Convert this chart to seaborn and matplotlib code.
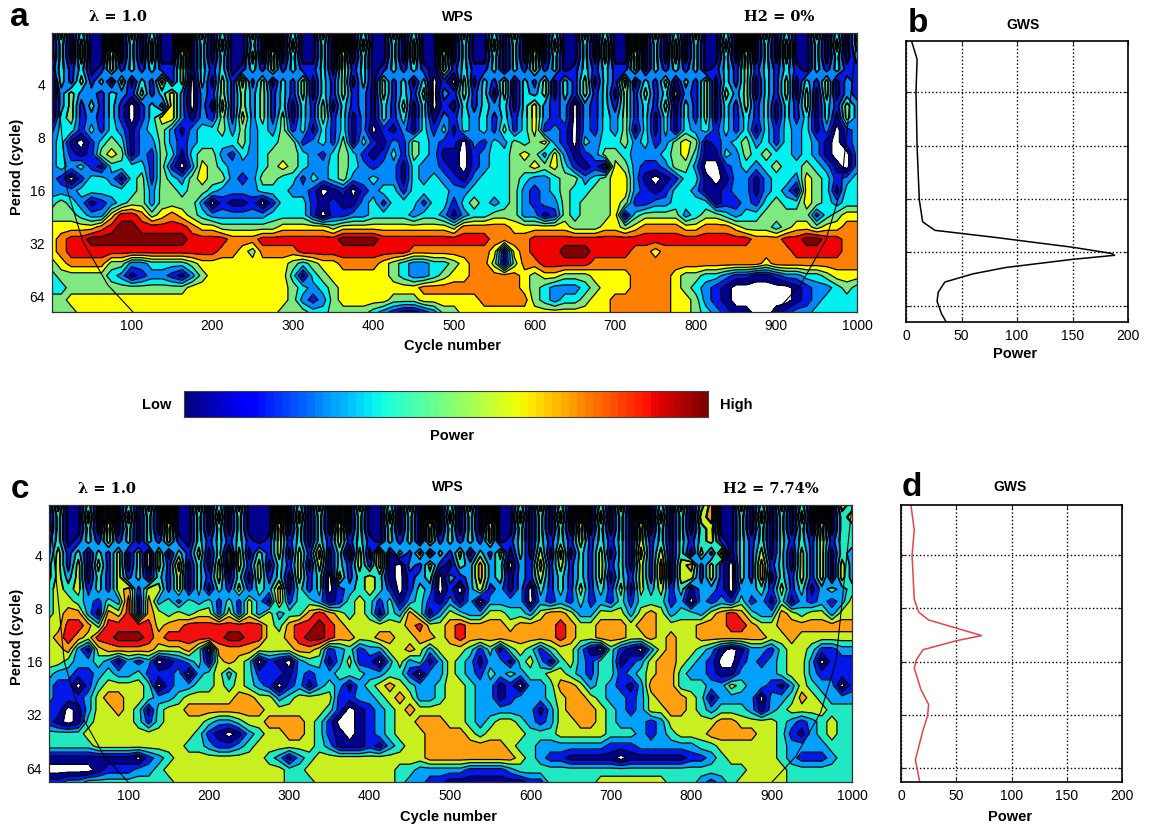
import numpy as np
import pandas as pd
import matplotlib
matplotlib.use('Agg')
import matplotlib.pyplot as plt
import seaborn as sns

# wavelet power, one string per row (top to bottom),
# one digit per column, 8 columns = 100 cycles. 0 is the white hole, 9 the top band
wps_a = [
    "15141161 51411615 14115161 41151614 11514116 15114151 61411514 11615141 51141615 14115141 4",
    "14151161 41511614 15114161 51141615 11415116 14115141 61511415 11614151 41151614 15114151 4",
    "14151151 41511514 14115151 41141514 11415115 14114141 51411415 11514151 41141514 15114141 3",
    "24241252 42422514 24124252 42241524 12424215 24224142 52412424 22514242 41242524 24214242 2",
    "04252415 14262504 15262514 25142514 15241402 05142514 25142514 26142514 25142514 25142513 2",
    "03533243 25246303 25253524 25142523 15242503 25241514 35142524 15252403 25153514 25151513 2",
    "03524242 02426303 16253524 14251423 14251402 14243414 63230324 25242514 25142524 14251425 3",
    "04523242 02466313 25263525 14252413 14241413 24342424 63230324 35241414 25142424 14241415 3",
    "24424243 13453134 45353435 24142413 02131424 14342524 62320324 35141414 34242414 24341302 3",
    "34102454 13353234 44453445 52342514 21325432 20324354 56320434 45342356 51234534 24343102 3",
    "34212565 13254145 53243455 54324542 12425431 10234456 53631235 54333456 41143545 44343100 3",
    "34342144 44252036 54333456 54334543 23314332 10234455 65642120 65322355 30023434 54454310 3",
    "32024431 45254356 55323554 42434533 43314343 21344454 33455345 66310124 41013313 44365423 4",
    "33344444 45355455 43333444 33201202 34424444 33444453 23454455 66321244 31123313 43165414 4",
    "45431234 55355553 02112024 44212113 42444244 24543453 23354555 65223344 44122324 54465434 4",
    "55543368 87567654 33333344 44202233 44443443 13445553 31254555 61455553 45543445 55552456 6",
    "66666789 98888876 65555556 66665666 66666666 57777766 66665556 65677776 67776555 45665667 7",
    "67889999 99999988 88777888 88888999 98888888 88887777 88888888 88888888 88888877 78899887 7",
    "67888888 88888888 87765777 78888888 88887777 77776167 88899988 88776777 77777777 77888887 7",
    "56777755 33444456 66666666 54566777 76543344 56775157 78888877 77777777 77777776 77777777 7",
    "45555543 12332135 66666666 41456666 66543345 66777776 56655566 66777765 54432211 23344566 6",
    "44555555 55555566 66666666 54345666 66666777 77777776 54333456 66777765 43210000 00123345 4",
    "55666666 66666666 66666666 53235666 66555666 66677777 54344566 77777766 53210000 00123444 4",
    "55566666 66666666 66666665 55445555 43211235 56666666 66666666 77777766 54321100 12334444 4",
]

wps_c = [
    "15114161 41516115 14151116 14151615 11415161 41516114 15141614 15161415 14611514 15141615 4",
    "14115161 51416114 15141116 15141614 11514161 51416115 14151615 14161514 15611415 14151614 5",
    "14114151 41415114 14141115 14141514 11414151 41415114 14141514 14151414 14511414 14141514 4",
    "24124252 41425214 24242125 24142524 21424152 42425124 14242524 24152414 24521424 14242524 4",
    "25241425 14051425 14051425 15261405 16142514 25142514 15161425 14162514 15261425 14152514 3",
    "35251525 14052614 15052514 25151425 26103252 14363403 26252425 24152615 62520426 24152515 3",
    "35351425 24142514 25141524 15240524 54102340 32363413 25242425 14252615 52520426 14252515 3",
    "45452425 62552514 14252436 14240234 54202430 20352313 04242524 25153524 13320334 25241343 4",
    "45543243 71634243 42425316 24431245 42413421 31303333 03232423 24244423 03232423 14132323 5",
    "45663165 71654545 52525353 44676545 41436413 54335544 35665335 55356534 43567643 36545535 5",
    "55776477 77756677 77777754 67787655 55556755 67666656 66676556 66566555 56667765 56666666 6",
    "56765778 88767777 77887755 67887665 56655665 67666666 66676556 66556565 56666666 55655555 5",
    "55631566 66655564 06666555 56652342 33556535 55424145 42455310 42103565 54310133 24554223 3",
    "55433431 32301234 15654021 03441352 20353413 54313314 53145324 41235665 43200232 34553022 2",
    "43322343 34222303 45354222 13233444 33442033 54324343 44554324 42345664 33211333 34553222 2",
    "32202455 55402334 45454320 23134313 45654334 55433120 33466534 32136664 44335433 21354330 2",
    "32223566 55433455 55566553 45555223 34565334 55433123 33456654 33235666 54133330 33465433 3",
    "22013556 54145566 66666655 55554201 23456555 55433333 31356665 43235566 54344431 34555544 4",
    "21014555 54245555 43345566 66542001 23455666 55434554 32355665 43332355 55566555 54323454 4",
    "44445555 55555554 21013455 66542101 23455566 66545555 44455555 44432345 55666665 54213454 4",
    "44444555 55555544 32234555 55543111 21345566 66666654 43333333 22233333 34455555 54333344 4",
    "11111111 10234555 55555543 13455555 55555566 66666665 43221111 10111111 22345555 54322234 4",
    "00000122 23345555 55555555 44555555 55544333 33222234 44444444 44444444 44444455 55444444 4",
    "22334444 44444555 55555555 44455555 55543322 11111111 22444445 55555544 43234555 55444444 4",
]

# band colours, white hole not included
colors_a = ['#00008c', '#0018e8', '#0088ff', '#00f0f0', '#80e880', '#ffff00', '#ff8000', '#f00000', '#800000']
colors_c = ['#00008c', '#0018e8', '#00a0ff', '#20e8c0', '#c8f020', '#ffa010', '#f01010', '#900000']

x_ticks = [100, 200, 300, 400, 500, 600, 700, 800, 900, 1000]
period_ticks = [4, 8, 16, 32, 64]

# cone of influence
coi_left_x = [1, 20, 39, 70, 103]
coi_left_p = [2.1, 16, 31, 55, 80]
coi_right_x = [1000, 980, 961, 930, 897]
coi_right_p = [2.1, 16, 31, 55, 80]

gws_b_period = [2.05, 2.6, 4, 8.1, 16.2, 21.5, 24, 26.3, 29.9, 32.4, 33.2, 35, 38.9, 42.3, 47, 53.7, 60.4, 71, 78.6]
gws_b_power = [5, 10, 9, 10, 12, 15, 26, 80, 150, 185, 188, 150, 90, 60, 35, 29, 28, 32, 36]

gws_d_period = [2.08, 2.88, 4, 7.1, 8.4, 9.3, 11.4, 12.2, 13.7, 15.6, 17.4, 23, 28, 32.5, 38.9, 57.6, 76.8]
gws_d_power = [9, 12, 10, 12, 16, 25, 73, 50, 20, 14, 12, 18, 25, 24, 20, 13, 17]

sns.set_style('white')
plt.rcParams['font.family'] = ['Liberation Sans', 'DejaVu Sans']
plt.rcParams['text.color'] = 'k'
plt.rcParams['xtick.labelcolor'] = 'k'
plt.rcParams['ytick.labelcolor'] = 'k'

W, H = 1150, 834
fig = plt.figure(figsize=(W / 100, H / 100), dpi=100)


def px_axes(left, top, right, bottom):
    return fig.add_axes([left / W, 1 - bottom / H, (right - left) / W, (bottom - top) / H])


def label(x, y, s, **kw):
    kw.setdefault('ha', 'center')
    kw.setdefault('va', 'center')
    fig.text(x / W, 1 - y / H, s, **kw)


def to_grid(rows):
    grid = [[int(c) for c in r.replace(' ', '')] for r in rows]
    for i, r in enumerate(grid):
        assert len(r) == 81, (i, len(r))
    return np.array(grid, dtype=float)


def wps_panel(box, rows, colors, ylim):
    ax = px_axes(*box)
    grid = to_grid(rows)
    xs = np.arange(81) * 12.5
    ys = np.geomspace(ylim[0], ylim[1], len(rows))
    levels = np.arange(0.5, len(colors) + 1)
    ax.contourf(xs, ys, grid, levels=levels, colors=colors)
    ax.contour(xs, ys, grid, levels=levels, colors='k', linewidths=0.9)
    # the short periods are packed with lines, nearly black in the original
    ax.contour(xs, ys[:8], grid[:8], levels=levels, colors='k', linewidths=1.2)
    ax.contour(xs, ys[:4], grid[:4], levels=levels, colors='k', linewidths=1.6)
    ax.plot(coi_left_x, coi_left_p, color='k', lw=0.8)
    ax.plot(coi_right_x, coi_right_p, color='k', lw=0.8)
    ax.set_yscale('log', base=2)
    ax.set_xlim(1, 1000)
    ax.set_ylim(ylim[1], ylim[0])
    ax.set_xticks(x_ticks)
    ax.set_xticklabels(x_ticks, fontsize=10)
    ax.set_yticks(period_ticks)
    ax.set_yticklabels(period_ticks, fontsize=10)
    ax.minorticks_off()
    ax.tick_params(direction='in', length=2, width=0.6, pad=5)
    for s in ax.spines.values():
        s.set_color('#303030')
        s.set_linewidth(0.9)
    return ax


def gws_panel(box, period, power, color, ylim):
    ax = px_axes(*box)
    df = pd.DataFrame({'period': period, 'power': power})
    sns.lineplot(data=df, x='power', y='period', sort=False, estimator=None, color=color, lw=1.1, ax=ax)
    ax.set_yscale('log', base=2)
    ax.set_xlim(0, 200)
    ax.set_ylim(ylim[1], ylim[0])
    ax.set_xticks([0, 50, 100, 150, 200])
    ax.set_xticklabels([0, 50, 100, 150, 200], fontsize=10)
    ax.set_yticks(period_ticks)
    ax.set_yticklabels([])
    ax.minorticks_off()
    ax.set_xlabel('')
    ax.set_ylabel('')
    ax.grid(True, color='k', ls=':', lw=1.0)
    ax.tick_params(direction='in', length=3, width=0.8, pad=5, left=True, right=True, bottom=True, top=True)
    for s in ax.spines.values():
        s.set_color('k')
        s.set_linewidth(1.2)
    return ax


wps_panel((52, 33, 857, 312), wps_a, colors_a, (2.05, 78.6))
wps_panel((49, 505, 852, 782), wps_c, colors_c, (2.08, 76.8))
gws_panel((906, 41, 1128, 322), gws_b_period, gws_b_power, 'k', (2.05, 79))
gws_panel((901, 505, 1122, 782), gws_d_period, gws_d_power, '#e8424a', (2.08, 76.8))

# colour scale
cax = px_axes(184, 391, 708, 417)
sns.heatmap(np.linspace(0, 1, 64).reshape(1, -1), cmap='jet', cbar=False, xticklabels=False, yticklabels=False, ax=cax)
cax.set_xticks(np.arange(0, 65, 6.4)[1:-1])
cax.set_xticklabels([])
cax.tick_params(axis='x', direction='in', length=2, width=0.5, color='#404040', top=True, bottom=True)
for s in cax.spines.values():
    s.set_visible(True)
    s.set_color('#404040')
    s.set_linewidth(0.8)

bold = dict(fontweight='bold', fontsize=10.5)
serif = dict(fontweight='bold', fontsize=10.5, family='DejaVu Serif')
letter = dict(fontweight='bold', fontsize=24)
small = dict(fontweight='bold', fontsize=10)

label(19, 18, 'a', **letter)
label(118, 17, 'λ = 1.0', **serif)
label(458, 17, 'WPS', **small)
label(779, 17, 'H2 = 0%', **serif)
label(918, 24, 'b', **letter)
label(1023, 25, 'GWS', **small)
label(453, 346, 'Cycle number', **bold)
label(1015, 354, 'Power', **bold)
label(17, 167, 'Period (cycle)', rotation=90, **bold)

label(157, 405, 'Low', **bold)
label(736, 405, 'High', **bold)
label(452, 436, 'Power', **bold)

label(20, 489, 'c', **letter)
label(107, 489, 'λ = 1.0', **serif)
label(448, 487, 'WPS', **small)
label(771, 489, 'H2 = 7.74%', **serif)
label(912, 487, 'd', **letter)
label(1010, 487, 'GWS', **small)
label(448, 817, 'Cycle number', **bold)
label(1010, 817, 'Power', **bold)
label(17, 637, 'Period (cycle)', rotation=90, **bold)

fig.savefig('out.png', dpi=100)
